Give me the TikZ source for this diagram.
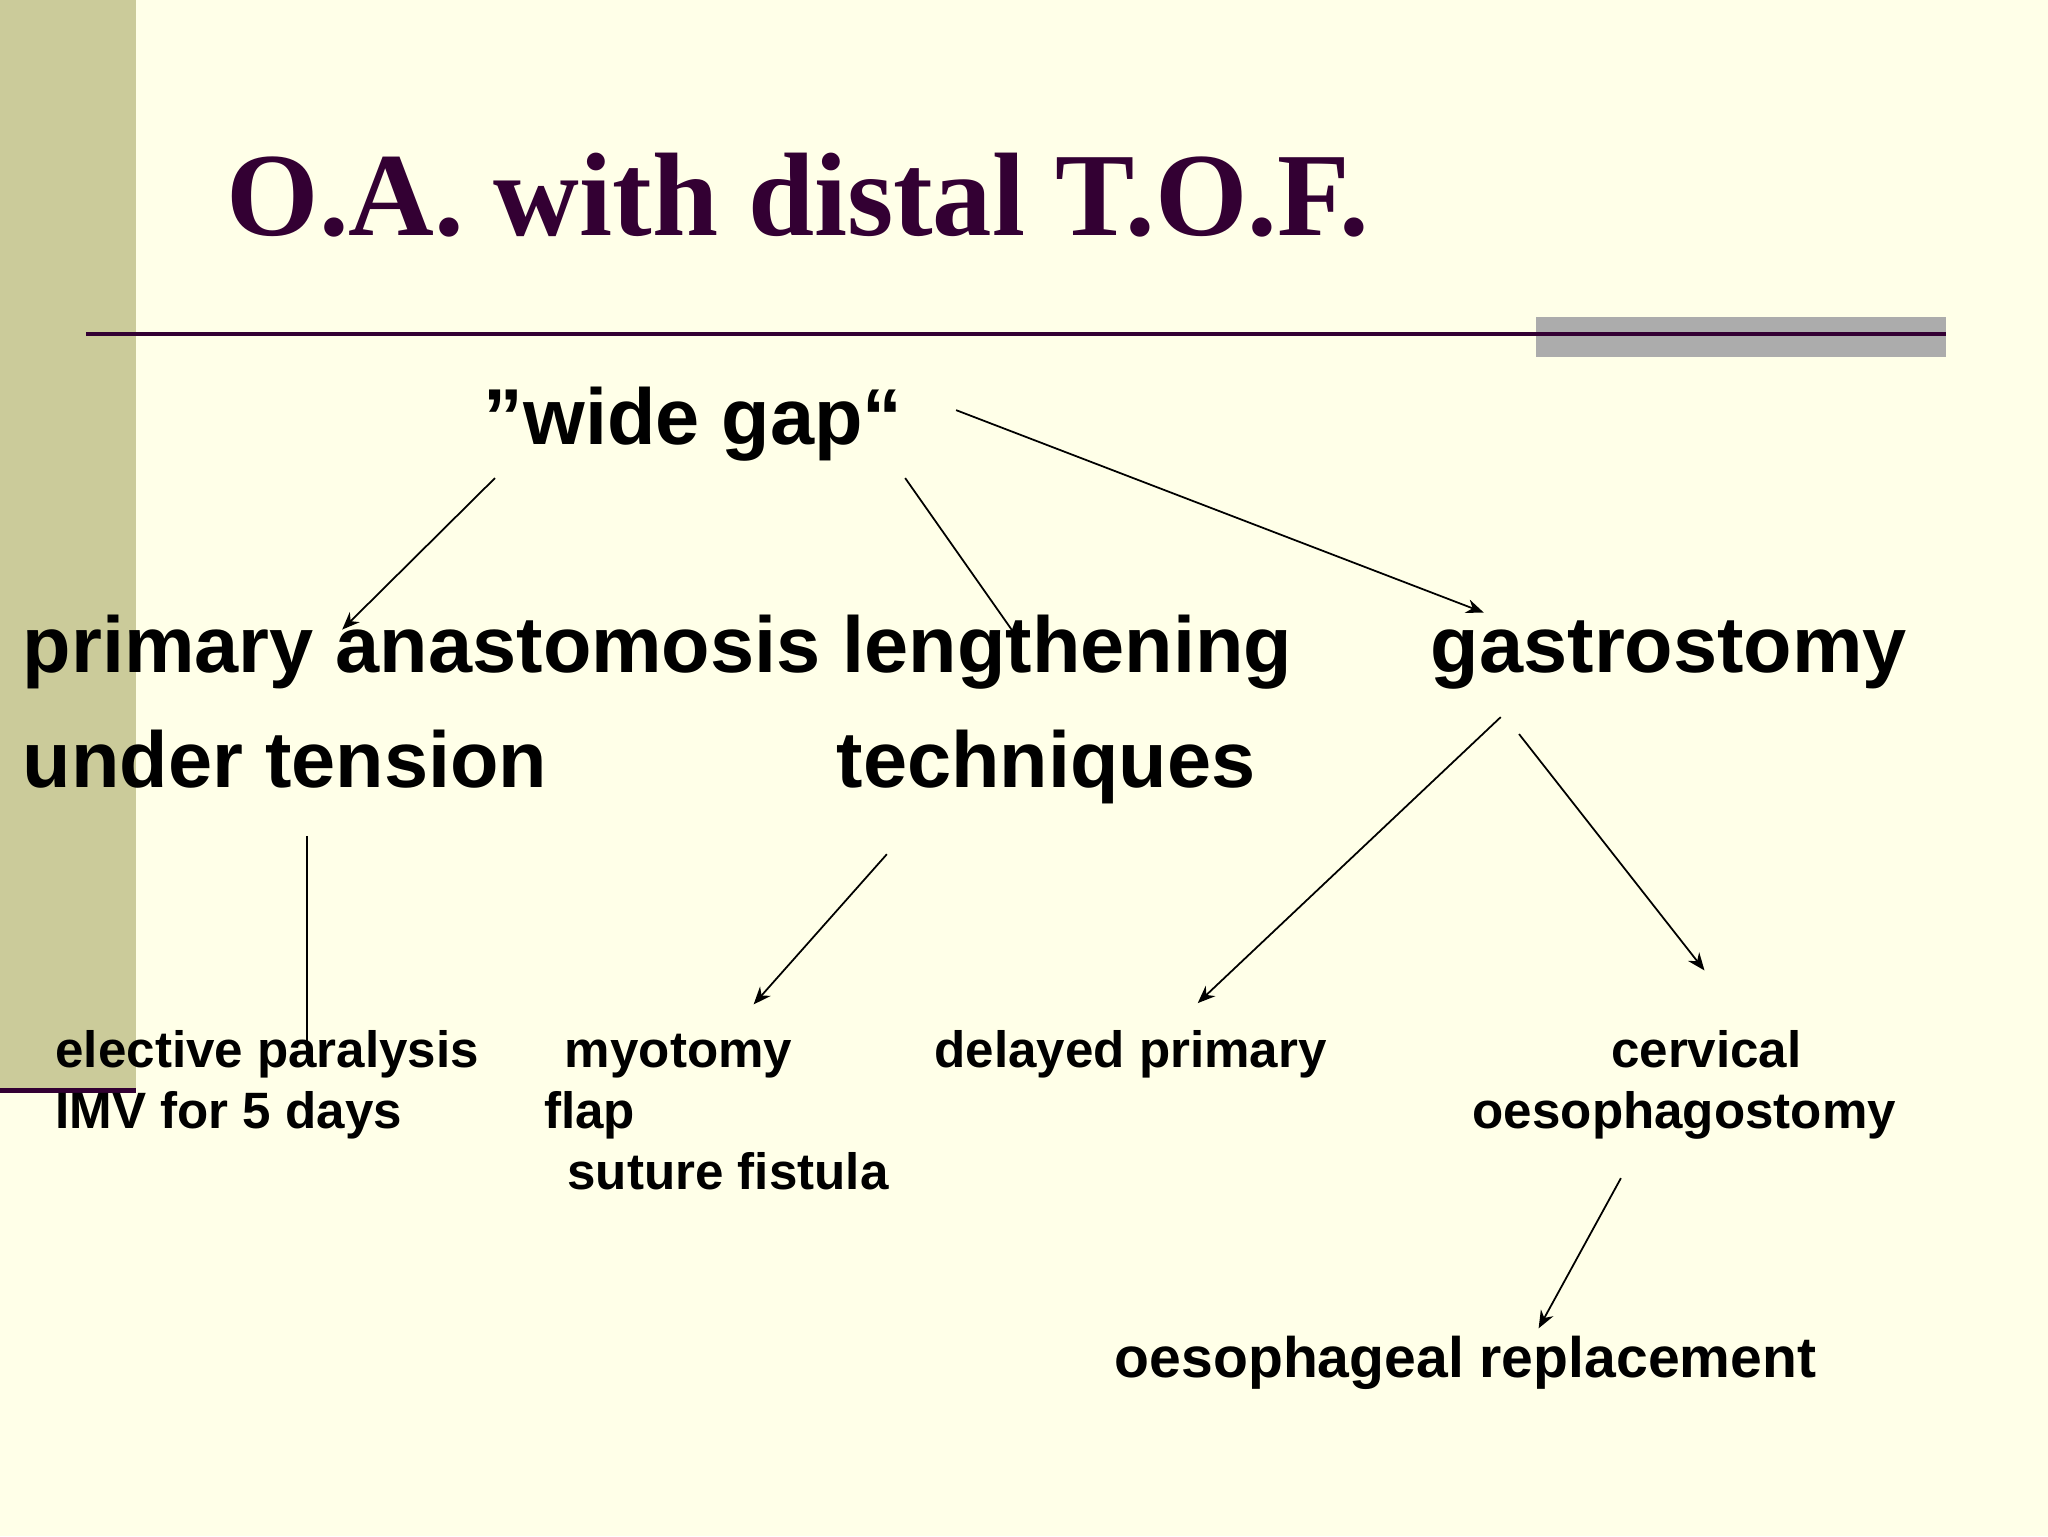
\documentclass[tikz,border=0pt]{standalone}
\usepackage{fontspec}
\setmainfont{Liberation Sans}
\newfontfamily\titlefont{Liberation Serif}
\usetikzlibrary{arrows.meta}
\definecolor{bg}{HTML}{FFFFE8}
\definecolor{barc}{HTML}{CBCB9A}
\definecolor{tcol}{HTML}{330033}
\begin{document}
\begin{tikzpicture}[x=0.3705pt,y=-0.3705pt,
  big/.style={anchor=base west,inner sep=0,font=\fontsize{22.5}{26}\selectfont\bfseries},
  small/.style={anchor=base west,inner sep=0,font=\fontsize{14.5}{17}\selectfont\bfseries},
  arr/.style={-{Stealth[length=5pt,width=4pt]},line width=0.5pt}]
\fill[bg] (0,0) rectangle (1568,1176);
\useasboundingbox (0,0) rectangle (1568,1176);
\fill[barc] (0,0) rectangle (104,833);
\draw[tcol,line width=1.3pt] (0,835) -- (104,835);
\fill[gray!65] (1176,243) rectangle (1490,273);
\draw[tcol,line width=1.1pt] (66,256) -- (1490,256);
\node[anchor=base west,inner sep=0,text=tcol,font=\fontsize{33.7}{38}\selectfont\titlefont\bfseries] (title) at (173,180) {O.A. with distal T.O.F.};
\node[big] (wg) at (370,340) {\symbol{34}wide gap“};
\node[big] (pa) at (17,515) {primary anastomosis lengthening};
\node[big] (ga) at (1095,515) {gastrostomy};
\node[big] (ut) at (17,603) {under tension};
\node[big] (te) at (640,603) {techniques};
\node[small] (ep) at (42,817) {elective paralysis};
\node[small] (imv) at (42,864) {IMV for 5 days};
\node[small] (my) at (432,817) {myotomy};
\node[small] (fl) at (416,864) {flap};
\node[small] (sf) at (434,911) {suture fistula};
\node[small] (dp) at (715,817) {delayed primary};
\node[small] (ce) at (1233,817) {cervical};
\node[small] (oe) at (1127,864) {oesophagostomy};
\node[anchor=base west,inner sep=0,font=\fontsize{16.2}{19}\selectfont\bfseries] (or) at (853,1055) {oesophageal replacement};
\foreach \n/\p in {a1/{379,366},b1/{262,482},a2/{693,366},b2/{778,487},a3/{732,314},b3/{1136,469},a4/{235,640},b4/{235,800},a5/{679,654},b5/{577,769},a6/{1149,549},b6/{917,768},a7/{1163,562},b7/{1305,743},a8/{1241,902},b8/{1178,1017}}
  \coordinate (\n) at (\p);
\draw[arr] (a1) -- (b1);
\draw[line width=0.5pt] (a2) -- (b2);
\draw[arr] (a3) -- (b3);
\draw[line width=0.5pt] (a4) -- (b4);
\draw[arr] (a5) -- (b5);
\draw[arr] (a6) -- (b6);
\draw[arr] (a7) -- (b7);
\draw[arr] (a8) -- (b8);
\end{tikzpicture}
\end{document}
